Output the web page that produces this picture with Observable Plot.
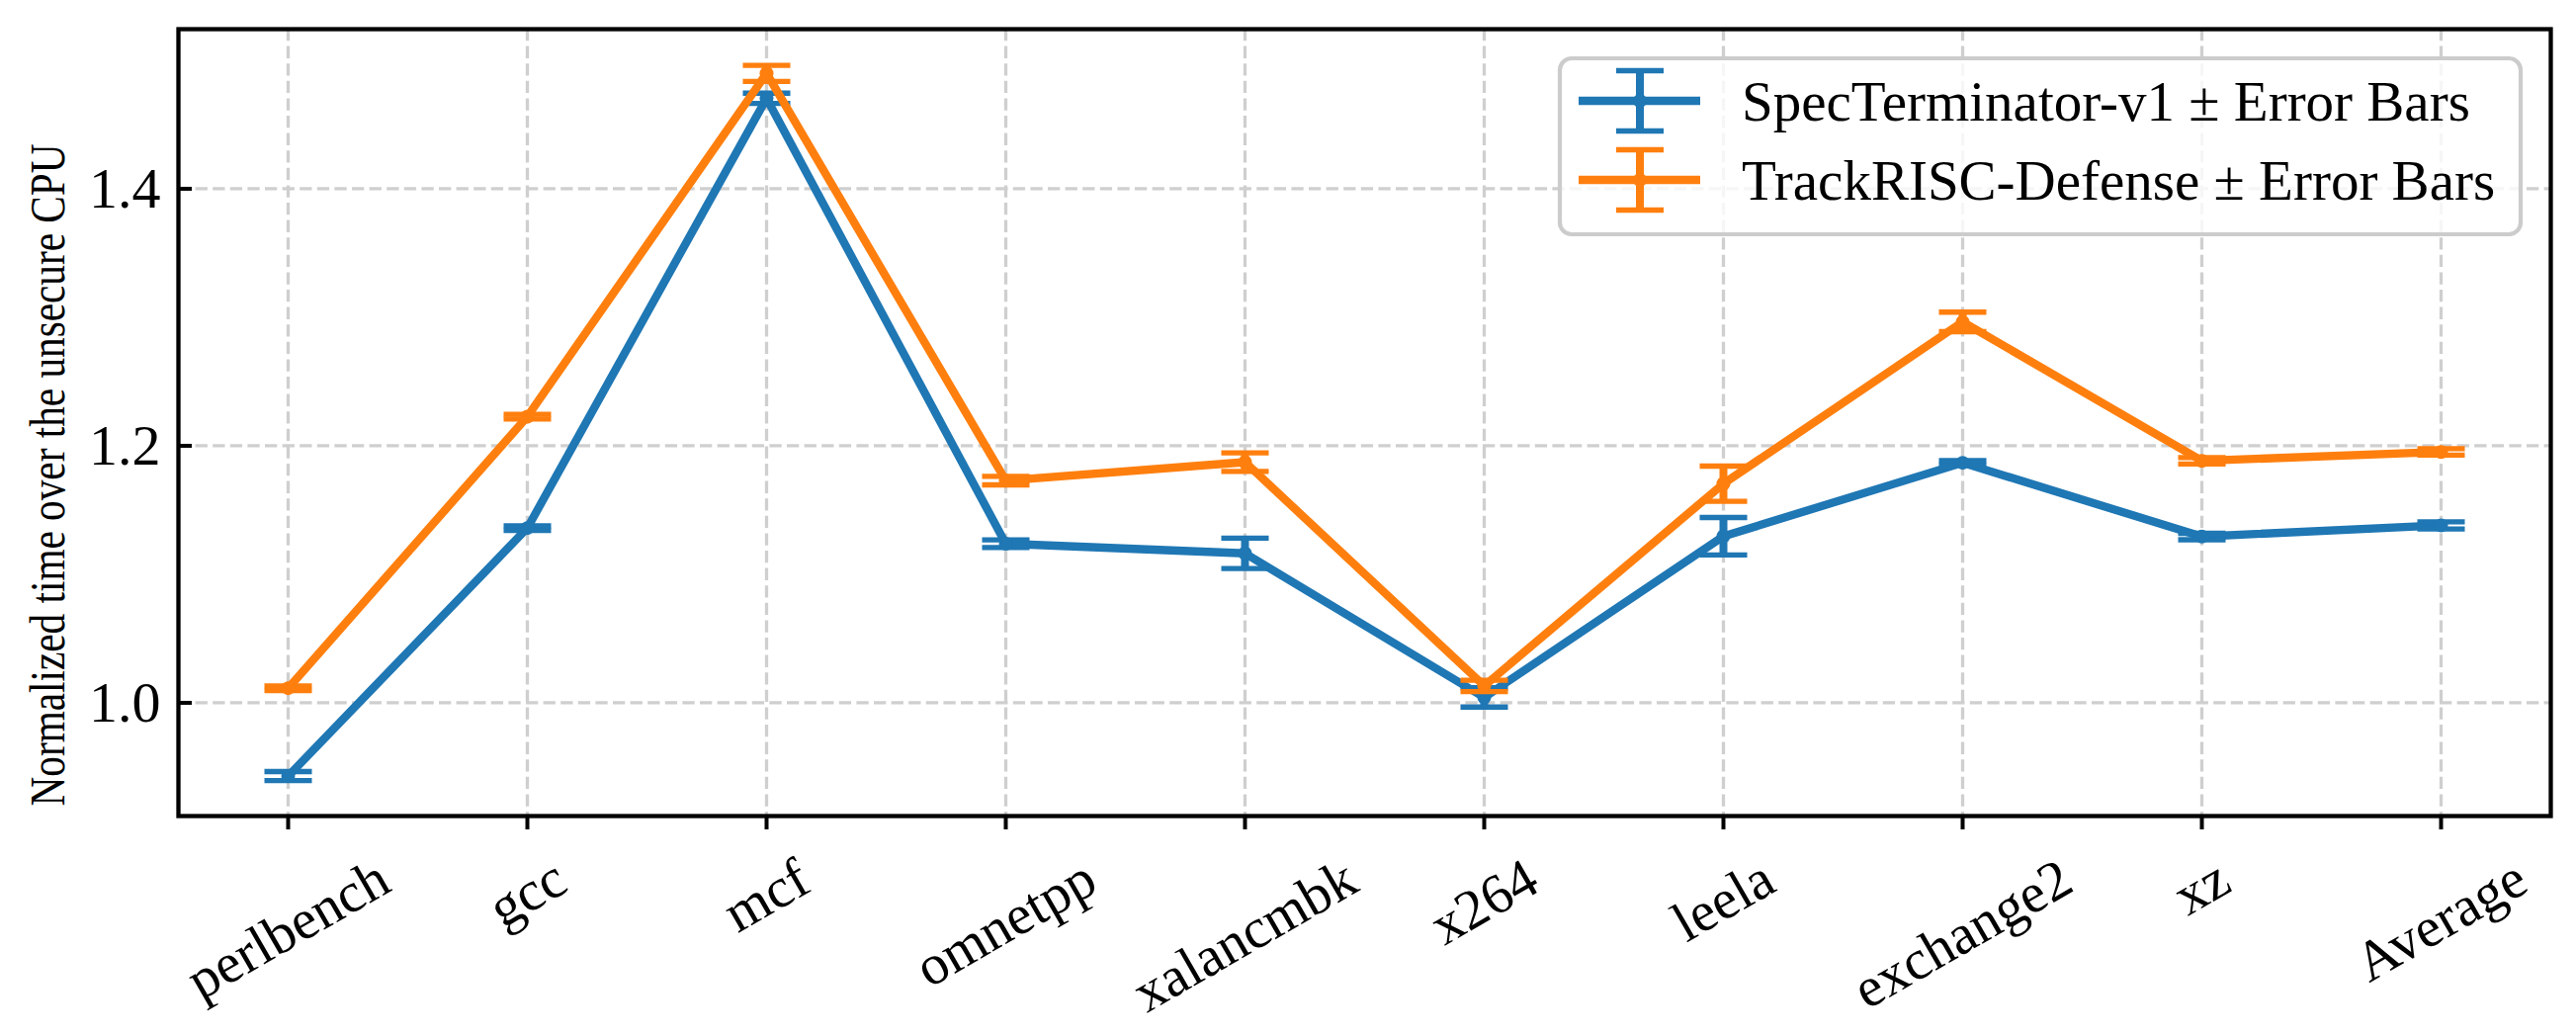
<!DOCTYPE html>
<html>
<head>
<meta charset="utf-8">
<script src="https://cdn.jsdelivr.net/npm/d3@7"></script>
<script src="https://cdn.jsdelivr.net/npm/@observablehq/plot@0.6"></script>
<style>
  body { margin: 0; background: #fff; }
  #chart { position: relative; width: 2606px; height: 1048px; }
  svg { font-family: "Liberation Serif", "Times New Roman", serif; }
</style>
</head>
<body>
<div id="chart"></div>
<script>
// ---- data ----
const categories = ["perlbench", "gcc", "mcf", "omnetpp", "xalancmbk", "x264", "leela", "exchange2", "xz", "Average"];
const seriesNames = ["SpecTerminator-v1", "TrackRISC-Defense"];
const specValues = [0.943, 1.136, 1.4704, 1.1238, 1.1163, 1.0042, 1.1296, 1.1868, 1.1294, 1.1381];
const specErrors = [0.0035, 0.0018, 0.004, 0.003, 0.0118, 0.0075, 0.0146, 0.0018, 0.0025, 0.0028];
const trackValues = [1.0114, 1.2227, 1.4898, 1.1729, 1.1873, 1.0132, 1.1705, 1.2964, 1.1883, 1.1952];
const trackErrors = [0.0018, 0.0018, 0.0063, 0.0033, 0.0072, 0.0044, 0.0137, 0.0076, 0.0025, 0.0025];
const yTicks = [1.0, 1.2, 1.4];
const yLabel = "Normalized time over the unsecure CPU";
const legendSuffix = " \u00b1 Error Bars";
const colors = ["#1f77b4", "#ff7f0e"];

// ---- layout ----
const W = 2606, H = 1048;
const mL = 180, mR = 26, mT = 29, mB = 223;
const frameW = W - mL - mR;
const yTickFont = 58;
const xTickFont = 57;
const legendFont = 57;
const labelFont = 50;
const labelLength = 670;

const seriesData = [
  categories.map((c, i) => ({cat: c, value: specValues[i], err: specErrors[i]})),
  categories.map((c, i) => ({cat: c, value: trackValues[i], err: trackErrors[i]}))
];

// horizontal cap symbol (like matplotlib's "_" marker)
const capSymbol = {
  draw(context, size) {
    const r = Math.sqrt(size / Math.PI);
    context.moveTo(-r, 0);
    context.lineTo(r, 0);
  }
};

const grid = {stroke: "#cfcfcf", strokeOpacity: 1, strokeWidth: 3.3, strokeDasharray: "12.3,5.3"};

const marks = [
  Plot.gridX(categories, {x: d => d, ...grid}),
  Plot.gridY(yTicks, {y: d => d, ...grid})
];

seriesData.forEach((data, s) => {
  const c = colors[s];
  marks.push(
    Plot.line(data, {x: "cat", y: "value", stroke: c, strokeWidth: 8.33, strokeLinejoin: "round"}),
    Plot.ruleX(data, {x: "cat", y1: d => d.value - d.err, y2: d => d.value + d.err, stroke: c, strokeWidth: 8}),
    Plot.dot(data, {x: "cat", y: d => d.value - d.err, symbol: capSymbol, r: 24, stroke: c, fill: "none", strokeWidth: 5.3}),
    Plot.dot(data, {x: "cat", y: d => d.value + d.err, symbol: capSymbol, r: 24, stroke: c, fill: "none", strokeWidth: 5.3}),
    Plot.dot(data, {x: "cat", y: "value", r: 7, fill: c, stroke: "none"})
  );
});

// axes
marks.push(
  Plot.axisX({tickSize: 14, tickFormat: () => "", stroke: "black", strokeWidth: 4, label: null}),
  Plot.axisY({ticks: yTicks, tickSize: 0, tickPadding: 18, tickFormat: d3.format(".1f"), fontSize: yTickFont, label: null, fill: "black"}),
  Plot.tickY(yTicks, {y: d => d, stroke: "black", strokeWidth: 4, insetRight: frameW - 14}),
  Plot.frame({stroke: "black", strokeWidth: 4.3})
);

// rotated x tick labels, centered on ticks like matplotlib
const ctx = document.createElement("canvas").getContext("2d");
ctx.font = `${xTickFont}px "Liberation Serif"`;
const sin30 = 0.5, cos30 = Math.sqrt(3) / 2;
categories.forEach(c => {
  const L = ctx.measureText(c).width;
  const boxH = L * sin30 + xTickFont * cos30;
  marks.push(Plot.text([c], {
    x: d => d, text: d => d, frameAnchor: "bottom",
    dy: (859 - (H - mB)) + boxH / 2,
    rotate: -30, textAnchor: "middle", lineAnchor: "middle",
    fontSize: xTickFont, fill: "black"
  }));
});

// y label
marks.push(Plot.text([yLabel], {
  text: d => d, frameAnchor: "left", dx: -(mL - 64), dy: 53,
  rotate: -90, textAnchor: "middle", lineAnchor: "bottom", fontSize: labelFont, fill: "black",
  className: "ylab"
}));

const plot = Plot.plot({
  width: W, height: H,
  marginLeft: mL, marginRight: mR, marginTop: mT, marginBottom: mB,
  x: {type: "point", domain: categories, padding: 0.45, align: 0.5},
  y: {domain: [0.9119, 1.5242]},
  style: {fontFamily: '"Liberation Serif", "Times New Roman", serif', fontSize: yTickFont + "px", background: "white", overflow: "visible"},
  marks
});

document.getElementById("chart").appendChild(plot);

// condense the y label to the reference's length
d3.select(plot).selectAll(".ylab text")
  .attr("textLength", labelLength).attr("lengthAdjust", "spacingAndGlyphs");

// legend (inside upper right)
const svg = d3.select(plot);
const lg = svg.append("g").attr("text-anchor", "start");
lg.append("rect")
  .attr("x", 1578).attr("y", 59).attr("width", 972).attr("height", 178)
  .attr("rx", 12).attr("ry", 12)
  .attr("fill", "white").attr("fill-opacity", 0.8)
  .attr("stroke", "#cccccc").attr("stroke-width", 4.2);
seriesNames.forEach((name, s) => {
  const cy = 102 + s * 80;
  const c = colors[s];
  const g = lg.append("g");
  g.append("line").attr("x1", 1597).attr("x2", 1720).attr("y1", cy).attr("y2", cy)
    .attr("stroke", c).attr("stroke-width", 8.33);
  g.append("line").attr("x1", 1659).attr("x2", 1659).attr("y1", cy - 30.5).attr("y2", cy + 30.5)
    .attr("stroke", c).attr("stroke-width", 8);
  [-30.5, 30.5].forEach(o => g.append("line")
    .attr("x1", 1635).attr("x2", 1683).attr("y1", cy + o).attr("y2", cy + o)
    .attr("stroke", c).attr("stroke-width", 5.3));
  g.append("circle").attr("cx", 1659).attr("cy", cy).attr("r", 7).attr("fill", c);
  g.append("text").attr("x", 1762).attr("y", cy + 20)
    .attr("text-anchor", "start")
    .attr("font-size", legendFont).attr("fill", "black")
    .text(name + legendSuffix);
});
</script>
</body>
</html>
